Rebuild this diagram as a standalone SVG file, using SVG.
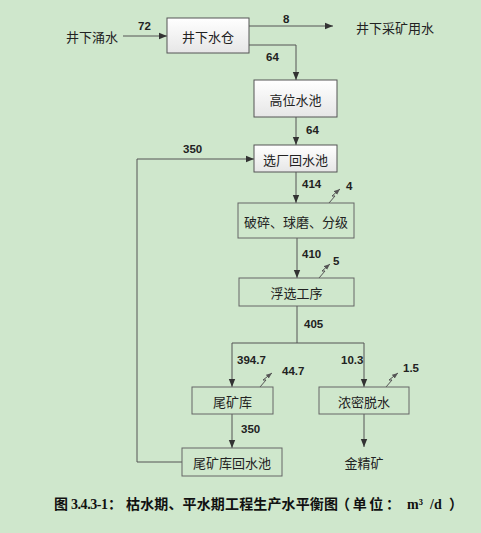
<svg xmlns="http://www.w3.org/2000/svg" width="481" height="533" viewBox="0 0 481 533">
<defs>
<linearGradient id="g" x1="0" y1="0" x2="0" y2="1">
<stop offset="0" stop-color="#ffffff"/>
<stop offset="1" stop-color="#e6e6e6"/>
</linearGradient>
<marker id="ar" viewBox="0 0 10 10" refX="10" refY="5" markerWidth="8" markerHeight="8" markerUnits="userSpaceOnUse" orient="auto">
<path d="M0,1 L10,5 L0,9 Z" fill="#333"/>
</marker>
<marker id="sa" viewBox="0 0 10 10" refX="10" refY="5" markerWidth="6" markerHeight="6" markerUnits="userSpaceOnUse" orient="auto">
<path d="M0,1 L10,5 L0,9 Z" fill="#555"/>
</marker>
</defs>
<style>
.bx1{fill:url(#g);stroke:#555;stroke-width:1}
.bx2{fill:#cfe7cc;stroke:#666;stroke-width:1}
.t{font-family:"Noto Sans CJK SC","Noto Sans CJK JP",sans-serif;font-size:13px;fill:#222;text-anchor:middle;dominant-baseline:central}
.n{font-family:"Liberation Sans","DejaVu Sans",sans-serif;font-size:11.5px;font-weight:bold;fill:#222}
.c{fill:none;stroke:#555;stroke-width:1}
.z{fill:none;stroke:#555;stroke-width:1}
.cj{font-family:"Noto Sans CJK SC","Noto Sans CJK JP",sans-serif;font-size:14px;font-weight:bold;fill:#111}
.cl{font-family:"Liberation Serif","Times New Roman",serif;font-size:14px;font-weight:bold;fill:#111}
</style>
<rect x="0" y="0" width="481" height="533" fill="#cfe7cc"/>

<g id="connectors">
<path class="c" d="M123,36 H167" marker-end="url(#ar)"/>
<path class="c" d="M249,26 H333" marker-end="url(#ar)"/>
<path class="c" d="M249,45 H296 V80" marker-end="url(#ar)"/>
<path class="c" d="M296,117 V145" marker-end="url(#ar)"/>
<path class="c" d="M296,172 V203" marker-end="url(#ar)"/>
<path class="c" d="M297,238 V278" marker-end="url(#ar)"/>
<path class="c" d="M297,306 V343"/>
<path class="c" d="M232,343 H364"/>
<path class="c" d="M232,343 V387" marker-end="url(#ar)"/>
<path class="c" d="M364,343 V387" marker-end="url(#ar)"/>
<path class="c" d="M232,414 V448" marker-end="url(#ar)"/>
<path class="c" d="M364,414 V447" marker-end="url(#ar)"/>
<path class="c" d="M182,462 H137 V159 H254" marker-end="url(#ar)"/>
<path class="z" d="M329,203 L335,196 L332,196 L340,189" marker-end="url(#sa)"/>
<path class="z" d="M319,278 L325,271 L322,271 L330,264" marker-end="url(#sa)"/>
<path class="z" d="M260,387 L266,380 L263,380 L272,373" marker-end="url(#sa)"/>
<path class="z" d="M386,387 L392,380 L389,380 L398,373" marker-end="url(#sa)"/>
</g>

<g id="labels">
<text class="n" x="138" y="30">72</text>
<text class="n" x="283" y="23">8</text>
<text class="n" x="266" y="61">64</text>
<text class="n" x="306" y="134">64</text>
<text class="n" x="183" y="153">350</text>
<text class="n" x="302" y="188">414</text>
<text class="n" x="346" y="190">4</text>
<text class="n" x="302" y="258">410</text>
<text class="n" x="333" y="265">5</text>
<text class="n" x="304" y="328">405</text>
<text class="n" x="237" y="364">394.7</text>
<text class="n" x="341" y="364">10.3</text>
<text class="n" x="282" y="375">44.7</text>
<text class="n" x="403" y="372">1.5</text>
<text class="n" x="241" y="433">350</text>
</g>

<g id="src"><text class="t" x="92" y="36">井下涌水</text></g>
<g id="use"><text class="t" x="395" y="27">井下采矿用水</text></g>
<g id="n1"><rect class="bx1" x="167" y="18" width="82" height="35"/><text class="t" x="208" y="36">井下水仓</text></g>
<g id="n2"><rect class="bx1" x="254" y="80" width="83" height="37"/><text class="t" x="295.5" y="99">高位水池</text></g>
<g id="n3"><rect class="bx1" x="254" y="145" width="83" height="27"/><text class="t" x="295.5" y="159">选厂回水池</text></g>
<g id="n4"><rect class="bx2" x="238" y="203" width="116" height="35"/><text class="t" x="296" y="221">破碎、球磨、分级</text></g>
<g id="n5"><rect class="bx2" x="239" y="278" width="115" height="28"/><text class="t" x="296.5" y="292">浮选工序</text></g>
<g id="n6"><rect class="bx2" x="192" y="387" width="81" height="27"/><text class="t" x="232.5" y="401">尾矿库</text></g>
<g id="n7"><rect class="bx2" x="319" y="387" width="90" height="27"/><text class="t" x="364" y="401">浓密脱水</text></g>
<g id="n8"><rect class="bx2" x="182" y="448" width="100" height="28"/><text class="t" x="232" y="462">尾矿库回水池</text></g>
<g id="out"><text class="t" x="364" y="462">金精矿</text></g>

<g id="caption">
<text class="cj" x="54" y="509">图</text>
<text class="cl" x="71" y="509" textLength="37" lengthAdjust="spacing">3.4.3-1</text>
<text class="cj" x="108" y="509">：</text>
<text class="cj" x="126" y="509" textLength="212" lengthAdjust="spacing">枯水期、平水期工程生产水平衡图</text>
<text class="cj" x="336" y="509" textLength="64" lengthAdjust="spacing">（单位：</text>
<text class="cl" x="407" y="509">m³</text>
<text class="cl" x="430" y="509">/d</text>
<text class="cj" x="449" y="509">）</text>
</g>
</svg>
